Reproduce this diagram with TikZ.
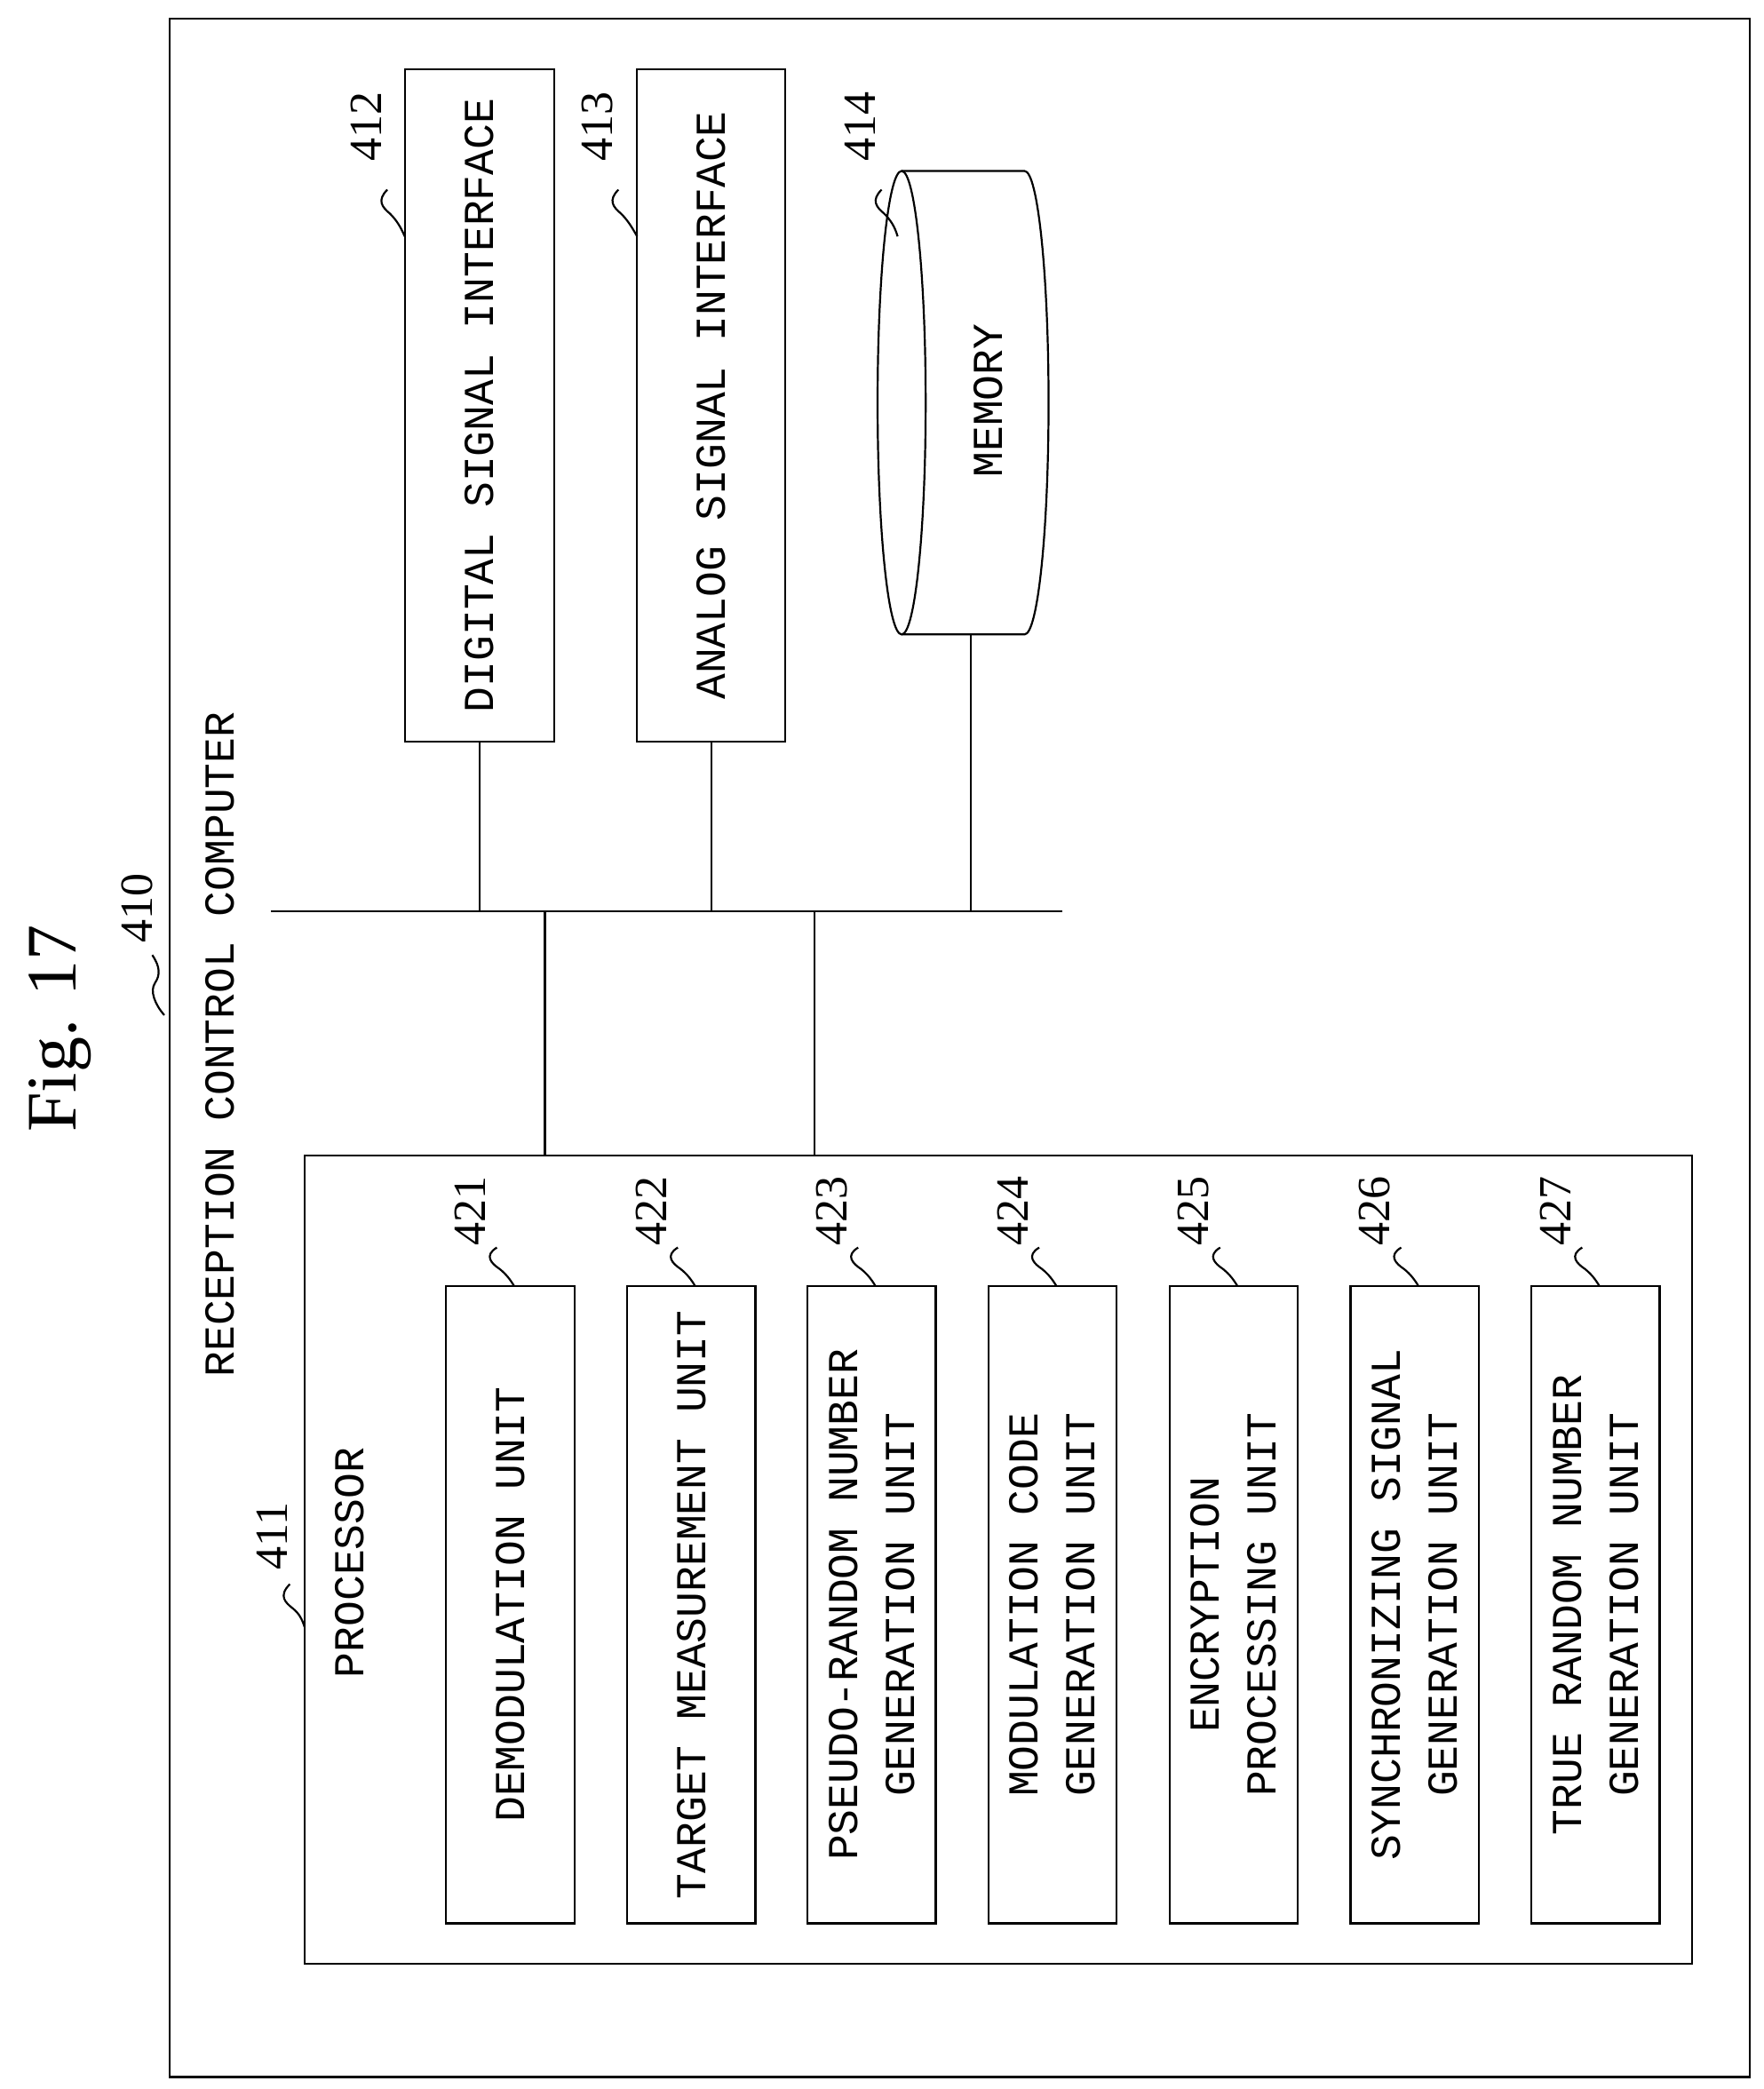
\documentclass[tikz,border=0pt]{standalone}
\usepackage{fontspec}
\setmainfont{Liberation Serif}
\newfontfamily\monof{Liberation Mono}
\begin{document}
\begin{tikzpicture}[x=1.504pt,y=-1.504pt,line width=2.2pt,
  lbl/.style={font=\monof\fontsize{48}{64}\selectfont,rotate=90,align=center,inner sep=0},
  num/.style={font=\fontsize{52}{60}\selectfont,rotate=90,inner sep=0},
  box/.style={draw,line width=2.2pt}]
\useasboundingbox (0,0) rectangle (1320,1564);
\draw[box] (127,14) rectangle (1310,1555);
\node[rotate=90,font=\fontsize{80}{90}\selectfont,inner sep=0] (fig) at (45,770) {Fig. 17};
\node[num] (n410) at (103,680) {410};
\draw (114,715) .. controls (120,724) and (120,730) .. (116,736) .. controls (112,742) and (116,752) .. (123,760);
\node[lbl] (rcc) at (165,782) {RECEPTION CONTROL COMPUTER};
% interfaces
\node[box,minimum width=112*1.504pt,minimum height=503*1.504pt] (b412) at (359,303.5) {};
\node[lbl] at (359,303.5) {DIGITAL SIGNAL INTERFACE};
\node[box,minimum width=111*1.504pt,minimum height=503*1.504pt] (b413) at (532.5,303.5) {};
\node[lbl] at (532.5,303.5) {ANALOG SIGNAL INTERFACE};
\node[num] (n412) at (274,95) {412};
\draw (290,142) .. controls (282,150) and (286,155) .. (292,160) .. controls (297,165) and (300,170) .. (303,177);
\node[num] (n413) at (447,95) {413};
\draw (463,142) .. controls (455,150) and (459,155) .. (465,160) .. controls (470,165) and (473,170) .. (477,177);
\node[num] (n414) at (644,95) {414};
\draw (660,142) .. controls (652,150) and (656,155) .. (662,160) .. controls (667,165) and (670,170) .. (672,177);
% memory cylinder
\draw (675,128) -- (767,128) .. controls (777,128) and (785,206) .. (785,301.5) .. controls (785,397) and (777,475) .. (767,475) -- (675,475);
\draw (675,128) .. controls (685,128) and (693,206) .. (693,301.5) .. controls (693,397) and (685,475) .. (675,475)
      .. controls (665,475) and (657,397) .. (657,301.5) .. controls (657,206) and (665,128) .. (675,128) -- cycle;
\node[lbl] (mem) at (740,300) {MEMORY};
\coordinate (memb) at (727,475);
% bus
\coordinate (busL) at (203,682);
\coordinate (busR) at (795,682);
\draw (busL) -- (busR);
\draw (b412.south) -- (b412.south |- busL);
\draw (b413.south) -- (b413.south |- busL);
\draw (memb) -- (memb |- busL);
% processor
\node[box,minimum width=1039*1.504pt,minimum height=605*1.504pt] (proc) at (747.5,1167.5) {};
\draw (408,682) -- (408,865);
\draw (610,682) -- (610,865);
\node[lbl] (ptext) at (262,1170) {PROCESSOR};
\node[num] (n411) at (204,1150) {411};
\draw (217,1186) .. controls (208,1195) and (214,1200) .. (219,1204) .. controls (224,1208) and (226,1212) .. (228,1218);
% units
\foreach \i/\xa/\t/\num in {1/382/DEMODULATION UNIT/421, 2/517.5/TARGET MEASUREMENT UNIT/422,
  3/652.5/PSEUDO-RANDOM NUMBER\\GENERATION UNIT/423, 4/788/MODULATION CODE\\GENERATION UNIT/424,
  5/923.5/ENCRYPTION\\PROCESSING UNIT/425, 6/1059/SYNCHRONIZING SIGNAL\\GENERATION UNIT/426,
  7/1194.5/TRUE RANDOM NUMBER\\GENERATION UNIT/427}{
  \node[box,minimum width=96*1.504pt,minimum height=477*1.504pt] (u\i) at (\xa,1201.5) {};
  \node[lbl] at (\xa,1201.5) {\t};
  \node[num] (n\num) at (\xa-30,907) {\num};
  \draw (\xa-10,934) .. controls (\xa-20,940) and (\xa-14,946) .. (\xa-8,950) .. controls (\xa-3,954) and (\xa,958) .. (\xa+3,963);
}
\end{tikzpicture}
\end{document}
